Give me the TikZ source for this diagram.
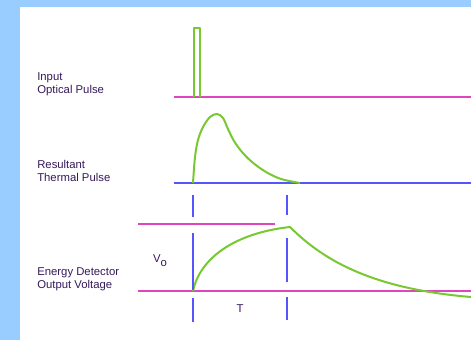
\documentclass[tikz,border=0pt]{standalone}
\usepackage{fontspec}
\setmainfont{Liberation Sans}
\usepackage{tikz}
\usetikzlibrary{positioning, calc}

\definecolor{frameblue}{RGB}{153,204,255}
\definecolor{axispink}{RGB}{222,70,190}
\definecolor{axisblue}{RGB}{85,85,255}
\definecolor{curvegreen}{RGB}{120,200,50}
\definecolor{labelink}{RGB}{55,25,90}

\begin{document}
\begin{tikzpicture}[
    x=0.75pt, y=-0.75pt,
    label/.style={inner sep=0pt, align=left, anchor=west, text=labelink, font=\fontsize{8.5}{9.75}\selectfont},
    pinkline/.style={draw=axispink, line width=0.9pt},
    blueline/.style={draw=axisblue, line width=1pt},
    marker/.style={draw=axisblue, line width=1.3pt},
    signal/.style={draw=curvegreen, line width=1.5pt, line join=round}
]
    % frame and page
    \fill[frameblue] (0,0) rectangle (471,340);
    \fill[white] (20,7) rectangle (471,340);
    \useasboundingbox (0,0) rectangle (471,340);

    % labels
    \node (input) [label] at (37,84) {Input\\Optical Pulse};
    \node (thermal) [label] at (37,171) {Resultant\\Thermal Pulse};
    \node (detector) [label] at (37,279) {Energy Detector\\Output Voltage};

    % input optical pulse
    \coordinate (base1L) at (174,97);
    \coordinate (base1R) at (471,97);
    \draw [pinkline] (base1L) -- (base1R);
    \coordinate (pulseL) at (194,97);
    \coordinate (pulseR) at (200,97);
    \draw [signal, line width=1.3pt] (pulseL) -- ++(0,-69) -| (pulseR);

    % resultant thermal pulse
    \coordinate (base2L) at (174,183);
    \coordinate (base2R) at (471,183);
    \draw [blueline] (base2L) -- (base2R);
    \draw [signal] plot [smooth, tension=0.55] coordinates {
        (193,183) (195,157) (198,140) (203,127) (210,117) (217,114) (223,118)
        (228,129) (234,141) (242,152) (252,162) (266,172) (281,179) (300,183)};

    % energy detector output voltage
    \coordinate (topL) at (138,224);
    \coordinate (topR) at (275,224);
    \draw [pinkline] (topL) -- (topR);
    \coordinate (base3L) at (138,291);
    \coordinate (base3R) at (471,291);
    \draw [pinkline] (base3L) -- (base3R);
    \coordinate (volstart) at (193,291);
    \coordinate (volpeak) at (290,227);
    \coordinate (volend) at (471,297);
    \draw [signal] (volstart) .. controls (200,258) and (235,233) .. (volpeak)
        .. controls (325,262) and (375,289) .. (volend);

    % time markers
    \foreach \xm/\ya/\yb/\yc/\yd/\ye/\yf in {193/195/217/233/290/298/322, 287/195/215/238/282/297/320}{
        \draw [marker] (\xm,\ya) -- (\xm,\yb);
        \draw [marker] (\xm,\yc) -- (\xm,\yd);
        \draw [marker] (\xm,\ye) -- (\xm,\yf);
    }

    \node (vo) [label, anchor=center] at (160,261) {V\raisebox{-0.7ex}{o}};
    \node (tlabel) [label, anchor=center] at (240,309) {T};
\end{tikzpicture}
\end{document}
